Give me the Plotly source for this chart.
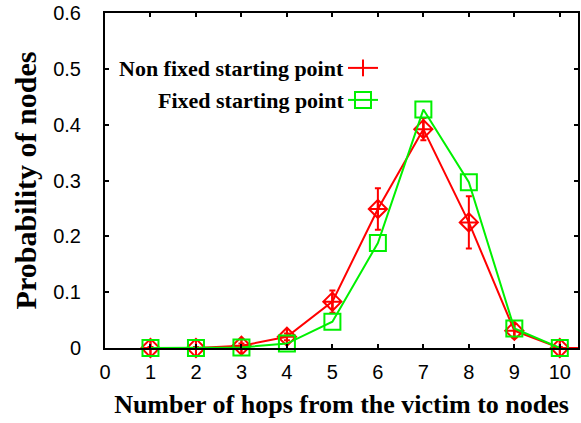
import plotly.graph_objects as go

hops_red = [1, 2, 3, 4, 5, 6, 7, 8, 9, 10, 11]
prob_red = [0.0, 0.0, 0.004, 0.02, 0.083, 0.249, 0.392, 0.225, 0.031, 0.0, 0.0]
err_red = [0.002, 0.002, 0.004, 0.006, 0.02, 0.037, 0.02, 0.047, 0.012, 0.002, 0.0]

hops_green = [1, 2, 3, 4, 5, 6, 7, 8, 9, 10]
prob_green = [0.0, 0.0, 0.001, 0.008, 0.047, 0.188, 0.427, 0.297, 0.035, 0.0]

label_red = "Non fixed starting point"
label_green = "Fixed starting point"

RED = "#ff0000"
GREEN = "#00f000"

W, H = 581, 423
L, R, T, B = 105, 1, 13, 75
pw, ph = W - L - R, H - T - B

def px(xp):
    return (xp - L) / pw

def py(yp):
    return (H - B - yp) / ph

fig = go.Figure()

fig.add_trace(go.Scatter(
    x=hops_red, y=prob_red, mode="lines+markers", name="",
    line=dict(color=RED, width=2),
    marker=dict(symbol="line-ns-open", size=12, color=RED, line=dict(color=RED, width=2)),
    error_y=dict(type="data", array=err_red, visible=True, color=RED, thickness=2, width=3),
    legend="legend", cliponaxis=False,
))
fig.add_trace(go.Scatter(
    x=hops_red, y=prob_red, mode="markers", showlegend=False,
    marker=dict(symbol="diamond-cross-open", size=14, color=RED, line=dict(color=RED, width=2)),
    cliponaxis=False,
))
fig.add_trace(go.Scatter(
    x=hops_green, y=prob_green, mode="lines+markers", name="",
    line=dict(color=GREEN, width=2),
    marker=dict(symbol="square-open", size=16, color=GREEN, line=dict(color=GREEN, width=2)),
    legend="legend2", cliponaxis=False,
))

axis_common = dict(
    showline=True, linecolor="black", linewidth=2, mirror="ticks",
    ticks="inside", ticklen=4, tickwidth=2, tickcolor="black",
    showgrid=False, zeroline=False,
    tickfont=dict(family="Liberation Sans, Arial", size=20, color="black"),
)

fig.update_xaxes(
    range=[0, 10.4], tickmode="linear", tick0=0, dtick=1,
    ticklabelstandoff=5,
    title=dict(text="<b>Number of hops from the victim to nodes</b>",
               font=dict(family="Liberation Serif, Times New Roman", size=26, color="black"),
               standoff=13),
    **axis_common,
)
fig.update_yaxes(
    range=[0, 0.6], tickmode="linear", tick0=0, dtick=0.1,
    ticklabelstandoff=18,
    title=dict(text="<b>Probability of nodes</b>",
               font=dict(family="Liberation Serif, Times New Roman", size=30, color="black"),
               standoff=8),
    **axis_common,
)

legend_common = dict(
    xanchor="left", yanchor="middle", bgcolor="rgba(0,0,0,0)", borderwidth=0,
    font=dict(family="Liberation Serif", size=16, color="black"),
    itemwidth=30,
)
fig.update_layout(
    width=W, height=H,
    margin=dict(l=L, r=R, t=T, b=B, pad=0),
    paper_bgcolor="white", plot_bgcolor="white",
    showlegend=True,
    legend=dict(x=px(344), y=py(68), **legend_common),
    legend2=dict(x=px(344), y=py(100), **legend_common),
)

for txt, yp in [(label_red, 69), (label_green, 100)]:
    fig.add_annotation(
        x=px(347), y=py(yp), xref="paper", yref="paper",
        xanchor="right", yanchor="middle", showarrow=False,
        text="<b>" + txt + "</b>",
        font=dict(family="Liberation Serif, Times New Roman", size=22, color="black"),
    )

fig.write_html("out.html")
